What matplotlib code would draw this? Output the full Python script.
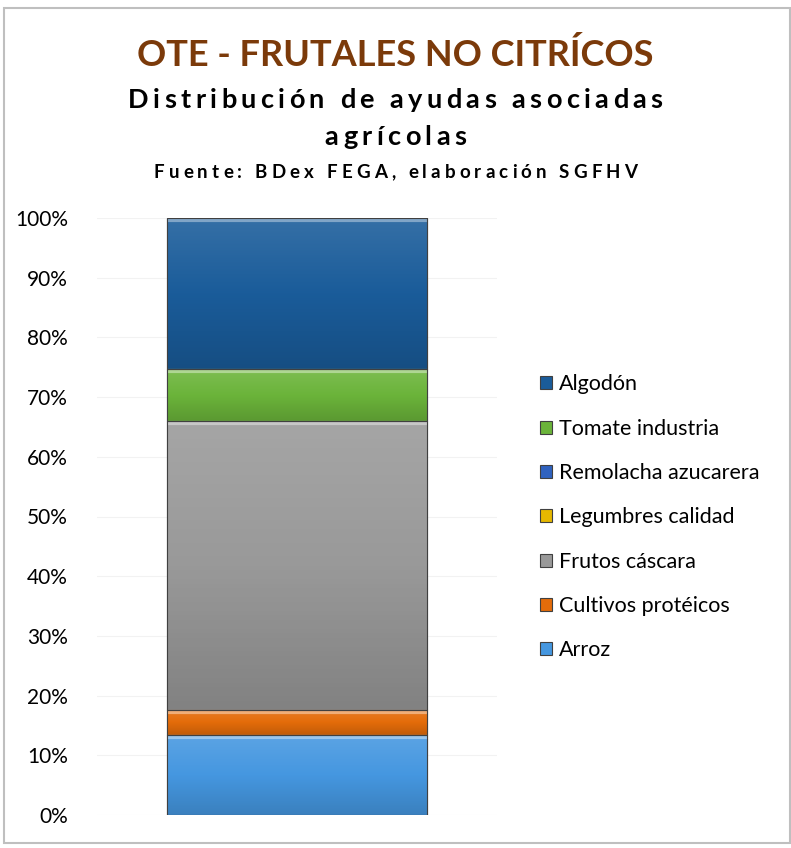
import matplotlib
matplotlib.use("Agg")
import numpy as np
import matplotlib.pyplot as plt
from matplotlib.patches import Rectangle
from matplotlib.colors import LinearSegmentedColormap, to_rgb
from matplotlib.ticker import PercentFormatter

# Datos (proporción de ayudas, de abajo hacia arriba)
categorias = ["Arroz", "Cultivos protéicos", "Frutos cáscara", "Legumbres calidad",
              "Remolacha azucarera", "Tomate industria", "Algodón"]
valores = [0.134, 0.042, 0.484, 0.0, 0.0, 0.087, 0.253]
colores = ["#4597E0", "#E46C0A", "#999999", "#E6B800", "#2F62BF", "#6BB43A", "#1A5C9A"]

titulo = "OTE - FRUTALES NO CITRÍCOS"
subtitulo = ["Distribución de ayudas asociadas", "agrícolas"]
fuente = "Fuente: BDex FEGA, elaboración SGFHV"

plt.rcParams["font.family"] = ["Lato", "DejaVu Sans"]

W, H = 791, 848
fig = plt.figure(figsize=(W / 100, H / 100), dpi=100)
ax = fig.add_axes([97 / W, 33 / H, 400 / W, 597 / H])
renderer = fig.canvas.get_renderer()


def texto_espaciado(s, y_px, size, tracking, color="black"):
    """Texto centrado con espaciado entre letras (como en Excel)."""
    anchos = []
    for ch in s:
        t = fig.text(0, 0, ch, fontsize=size, fontweight="bold")
        anchos.append(t.get_window_extent(renderer).width if ch != " " else size * 0.35)
        t.remove()
    total = sum(anchos) + tracking * (len(s) - 1)
    x = (W - total) / 2
    for ch, w in zip(s, anchos):
        fig.text(x / W, 1 - y_px / H, ch, fontsize=size, fontweight="bold",
                 color=color, ha="left", va="center")
        x += w + tracking


def mezcla(c, f):
    r = np.array(to_rgb(c))
    if f > 0:
        return tuple(r + (1 - r) * f)
    return tuple(r * (1 + f))


# borde del gráfico
fig.patches.append(Rectangle((4 / W, 5 / H), 786 / W, 835 / H,
                             transform=fig.transFigure, fill=False,
                             edgecolor="#BFBFBF", linewidth=1.5))

bottom = 0.0
handles = []
for cat, val, col in zip(categorias, valores, colores):
    b = ax.bar(0, val, bottom=bottom, width=1.0, color=col,
               edgecolor="#404040", linewidth=0.8, label=cat, zorder=3)
    handles.append(b)
    if val > 0:
        # degradado vertical (más claro arriba, más oscuro abajo)
        cmap = LinearSegmentedColormap.from_list("g", [mezcla(col, -0.15), col, mezcla(col, 0.12)])
        im = ax.imshow(np.linspace(0, 1, 64).reshape(-1, 1), cmap=cmap, aspect="auto",
                       origin="lower", extent=(-0.5, 0.5, bottom, bottom + val), zorder=3.5)
        im.set_clip_path(b.patches[0])
        # borde superior con brillo
        ax.plot([-0.5, 0.5], [bottom + val - 0.003] * 2, color=mezcla(col, 0.45),
                linewidth=3, zorder=3.6, solid_capstyle="butt")
        ax.bar(0, val, bottom=bottom, width=1.0, fill=False,
               edgecolor="#404040", linewidth=0.8, zorder=3.7)
    bottom += val

ax.set_xlim(-0.77, 0.77)
ax.set_ylim(0, 1)
ax.set_yticks([i / 10 for i in range(11)])
ax.yaxis.set_major_formatter(PercentFormatter(1.0, decimals=0))
ax.tick_params(axis="y", length=0, labelsize=15, pad=21)
ax.set_xticks([])
ax.grid(axis="y", color="#F2F2F2", linewidth=0.8, zorder=0)
for s in ax.spines.values():
    s.set_visible(False)

# leyenda en orden inverso (Algodón arriba)
leg = fig.legend(handles[::-1], categorias[::-1], loc="upper left",
                 bbox_to_anchor=(521 / W, 1 - 355 / H), frameon=False,
                 fontsize=15.5, handlelength=0.55, handleheight=0.55,
                 labelspacing=1.13, handletextpad=0.3)

fig.text(0.5, 1 - 55 / H, titulo, ha="center", va="center",
         fontsize=26, fontweight="bold", color="#7B3A0A")
texto_espaciado(subtitulo[0], 100, 19.5, 4.4)
texto_espaciado(subtitulo[1], 137, 19.5, 4.4)
texto_espaciado(fuente, 173, 13.5, 4.1)

fig.savefig("out.png", dpi=100)
